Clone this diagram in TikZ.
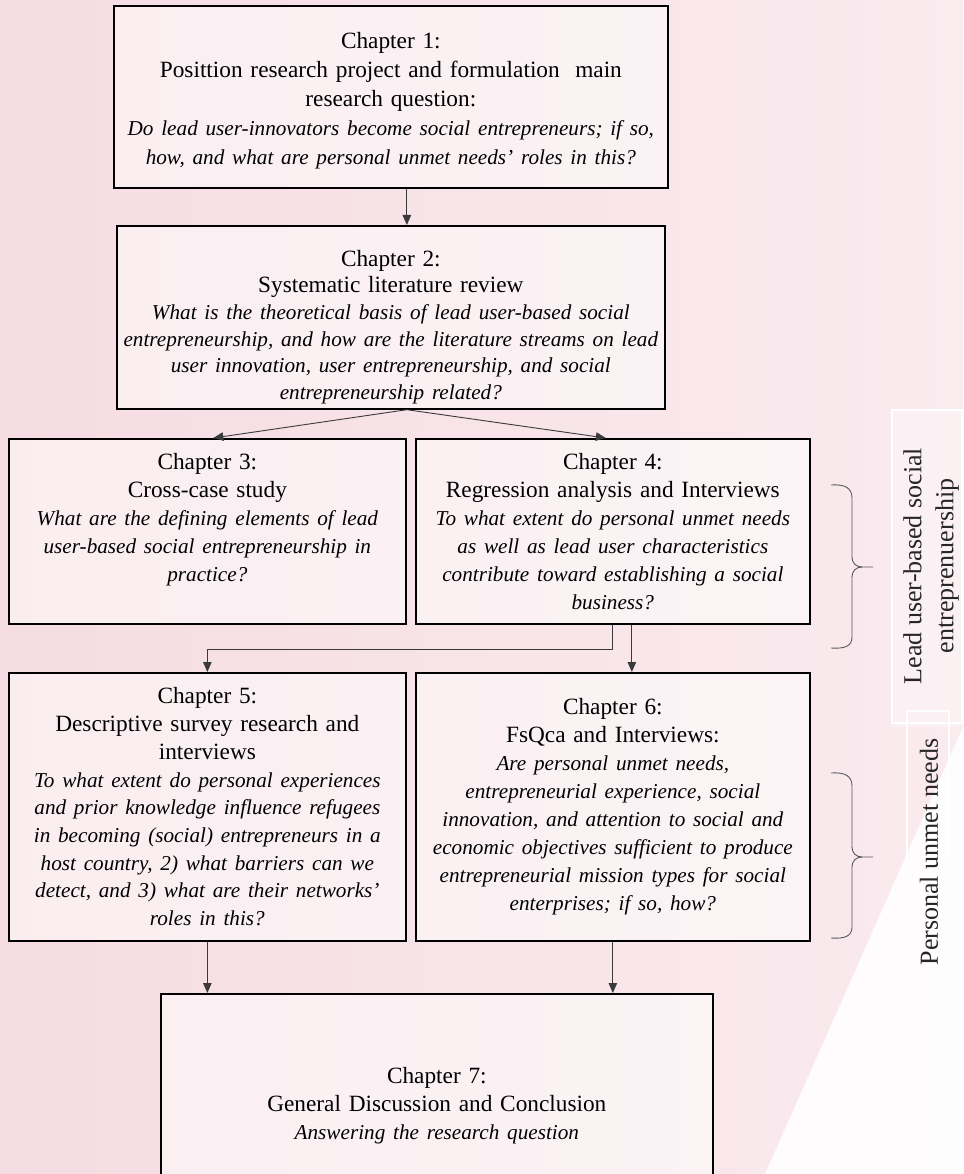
\documentclass[tikz,border=0pt]{standalone}
\usepackage{fontspec}
\setmainfont{Liberation Serif}
\usetikzlibrary{arrows.meta}
\definecolor{bgpinkA}{HTML}{F5DCE2}
\definecolor{bgpinkB}{HTML}{FAEBEF}
\definecolor{connc}{HTML}{3A3A3A}
\definecolor{bracec}{HTML}{5A5A5A}
\newcommand{\qit}{\itshape\fontsize{21.2}{\baselineskip}\selectfont}
\begin{document}
\begin{tikzpicture}[x=1pt,y=-1pt,
  chbox/.style={draw=black, line width=1.7pt, fill=white, fill opacity=0.5, text opacity=1,
    inner sep=0pt, align=center, anchor=north west, font=\fontsize{23.3}{28}\selectfont},
  conn/.style={draw=connc, line width=0.9pt, -{Triangle[length=10pt,width=8.5pt]}},
  bracepath/.style={draw=bracec, line width=0.9pt},
  sidelabel/.style={rotate=90, align=center, font=\fontsize{26}{32}\selectfont, text=black!85},
  faintbox/.style={draw=white, line width=1.4pt}]
\useasboundingbox (0,0) rectangle (963,1174);
\clip (0,0) rectangle (963,1174);
% background wash
\shade[left color=bgpinkA, right color=bgpinkB] (0,0) rectangle (963,1174);
\fill[white, opacity=0.3] (892,410) rectangle (963,727);
\fill[white, opacity=0.9] (963,727) -- (963,1174) -- (765,1174) -- (860,960) -- cycle;
% faint side boxes
\draw[faintbox] (892,410) rectangle (962,723);
\draw[faintbox] (907,860) -- (907,711) -- (949,711) -- (949,860);
% chapter boxes
\node[chbox, text width=554pt, minimum height=182pt, font=\fontsize{23.3}{29}\selectfont] (box1) at (113,5)
 {\mbox{}\\[-6pt]Chapter 1:\\ Posittion research project and formulation\ \ main\\ research question:\\
  \qit Do lead user-innovators become social entrepreneurs; if so,\\
  \qit how, and what are personal unmet needs' roles in this?};
\node[chbox, text width=548pt, minimum height=183pt, font=\fontsize{23.3}{26.6}\selectfont] (box2) at (116,225)
 {\mbox{}\\[9pt]Chapter 2:\\ Systematic literature review\\
  \qit What is the theoretical basis of lead user-based social\\
  \qit entrepreneurship, and how are the literature streams on lead\\
  \qit user innovation, user entrepreneurship, and social\\
  \qit entrepreneurship related?};
\node[chbox, text width=397pt, minimum height=185pt] (box3) at (8,438)
 {Chapter 3:\\ Cross-case study\\
  \qit What are the defining elements of lead\\
  \qit user-based social entrepreneurship in\\
  \qit practice?\\ \mbox{}};
\node[chbox, text width=394pt, minimum height=185pt] (box4) at (415,438)
 {Chapter 4:\\ Regression analysis and Interviews\\
  \qit To what extent do personal unmet needs\\
  \qit as well as lead user characteristics\\
  \qit contribute toward establishing a social\\
  \qit business?};
\node[chbox, text width=397pt, minimum height=268pt, font=\fontsize{23.3}{27.7}\selectfont] (box5) at (8,672)
 {Chapter 5:\\ Descriptive survey research and\\ interviews\\
  \qit To what extent do personal experiences\\
  \qit and prior knowledge influence refugees\\
  \qit in becoming (social) entrepreneurs in a\\
  \qit host country, 2) what barriers can we\\
  \qit detect, and 3) what are their networks'\\
  \qit roles in this?};
\node[chbox, text width=394pt, minimum height=268pt] (box6) at (415,672)
 {Chapter 6:\\ FsQca and Interviews:\\
  \qit Are personal unmet needs,\\
  \qit entrepreneurial experience, social\\
  \qit innovation, and attention to social and\\
  \qit economic objectives sufficient to produce\\
  \qit entrepreneurial mission types for social\\
  \qit enterprises; if so, how?};
\node[chbox, text width=552pt, minimum height=224pt] (box7) at (160,993)
 {Chapter 7:\\ General Discussion and Conclusion\\
  \qit Answering the research question};
% connectors
\draw[conn] ([xshift=16]box1.south) -- ([xshift=16]box2.north);
\draw[conn] ([xshift=16]box2.south) -- ([xshift=6]box3.north);
\draw[conn] ([xshift=16]box2.south) -- ([xshift=-7]box4.north);
\draw[conn] (box4.south) -- ++(0,25) -| (box5.north);
\draw[conn] ([xshift=19]box4.south) -- ([xshift=19]box6.north);
\draw[conn] (box5.south) -- (box5.south |- box7.north);
\draw[conn] (box6.south) -- (box6.south |- box7.north);
% braces
\draw[bracepath] (831,485) .. controls (845,484) and (852,488) .. (852,498) -- (852,557)
  .. controls (852,563) and (856,567) .. (862,567) -- (873,567);
\draw[bracepath] (862,567) .. controls (856,567) and (852,571) .. (852,577) -- (852,637)
  .. controls (852,646) and (845,649) .. (831,648);
\draw[bracepath] (831,773) .. controls (845,772) and (852,776) .. (852,786) -- (852,847)
  .. controls (852,853) and (856,857) .. (862,857) -- (873,857);
\draw[bracepath] (862,857) .. controls (856,857) and (852,861) .. (852,867) -- (852,927)
  .. controls (852,936) and (845,939) .. (831,938);
% side labels
\node[sidelabel] (lab1) at (931,566) {Lead user-based social\\entreprenuership};
\node[sidelabel] (lab2) at (929,852) {Personal unmet needs};
\end{tikzpicture}
\end{document}
